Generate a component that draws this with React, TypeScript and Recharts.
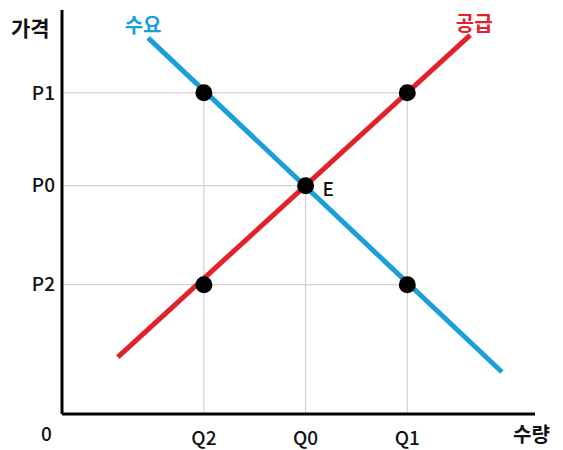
import React from 'react';
import {
  ComposedChart,
  Line,
  Scatter,
  XAxis,
  YAxis,
  ReferenceLine,
  ReferenceDot,
} from 'recharts';

// quantity / price levels (chart units 0..100)
const Q2 = 30;
const Q0 = 51.5;
const Q1 = 73;
const P2 = 32;
const P0 = 56.5;
const P1 = 79.5;

const xTicks = [Q2, Q0, Q1];
const xTickLabels = ['Q2', 'Q0', 'Q1'];
const yTicks = [P2, P0, P1];
const yTickLabels = ['P2', 'P0', 'P1'];

const demand = [
  { x: 18.2, y: 93.1 },
  { x: 93, y: 10.4 },
];
const supply = [
  { x: 11.8, y: 14.1 },
  { x: 86.3, y: 93.8 },
];
const points = [
  { x: Q2, y: P1 },
  { x: Q1, y: P1 },
  { x: Q0, y: P0 },
  { x: Q2, y: P2 },
  { x: Q1, y: P2 },
];

const FONT = '"Noto Sans CJK KR", "Noto Sans", sans-serif';
const BLUE = '#1a9fdb';
const RED = '#e2222a';
const GRID = '#c9c9c9';

const labelAt = (xs: number[], names: string[]) => (v: number) => names[xs.indexOf(v)] ?? '';

const Dot = (p: any) => <circle cx={p.cx} cy={p.cy} r={8.5} fill="#000" />;

const App: React.FC = () => {
  const tickStyle = { fill: '#111', fontSize: 19, fontFamily: FONT, fontWeight: 500 };
  return (
    <div style={{ position: 'absolute', left: 0, top: 0, width: 563, height: 450, background: '#fff' }}>
      <ComposedChart width={563} height={450} margin={{ top: 10, right: 28, left: 0, bottom: 0 }}>
        <XAxis
          dataKey="x"
          type="number"
          domain={[0, 100]}
          ticks={xTicks}
          tickFormatter={labelAt(xTicks, xTickLabels)}
          tickLine={false}
          tickMargin={12}
          height={36}
          axisLine={{ stroke: '#000', strokeWidth: 3 }}
          tick={tickStyle}
          allowDataOverflow
        />
        <YAxis
          dataKey="y"
          type="number"
          domain={[0, 100]}
          ticks={yTicks}
          tickFormatter={labelAt(yTicks, yTickLabels)}
          tickLine={false}
          width={62}
          tickMargin={1}
          axisLine={{ stroke: '#000', strokeWidth: 3 }}
          tick={tickStyle}
          allowDataOverflow
        />
        <ReferenceLine segment={[{ x: 0, y: P1 }, { x: Q1, y: P1 }]} stroke={GRID} />
        <ReferenceLine segment={[{ x: 0, y: P0 }, { x: Q0, y: P0 }]} stroke={GRID} />
        <ReferenceLine segment={[{ x: 0, y: P2 }, { x: Q1, y: P2 }]} stroke={GRID} />
        <ReferenceLine segment={[{ x: Q2, y: 0 }, { x: Q2, y: P1 }]} stroke={GRID} />
        <ReferenceLine segment={[{ x: Q0, y: 0 }, { x: Q0, y: P0 }]} stroke={GRID} />
        <ReferenceLine segment={[{ x: Q1, y: 0 }, { x: Q1, y: P1 }]} stroke={GRID} />
        <Line
          data={demand}
          dataKey="y"
          type="linear"
          stroke={BLUE}
          strokeWidth={5}
          dot={false}
          isAnimationActive={false}
        />
        <Line
          data={supply}
          dataKey="y"
          type="linear"
          stroke={RED}
          strokeWidth={5}
          dot={false}
          isAnimationActive={false}
        />
        <Scatter data={points} dataKey="y" shape={Dot} isAnimationActive={false} />
        <ReferenceDot
          x={demand[0].x}
          y={demand[0].y}
          r={0}
          stroke="none"
          label={{ value: '수요', position: 'top', offset: 5, fill: BLUE, fontSize: 20, fontWeight: 700, fontFamily: FONT, dx: -5 }}
        />
        <ReferenceDot
          x={supply[1].x}
          y={supply[1].y}
          r={0}
          stroke="none"
          label={{ value: '공급', position: 'top', offset: 4, fill: RED, fontSize: 20, fontWeight: 700, fontFamily: FONT, dx: 4 }}
        />
        <ReferenceDot
          x={Q0}
          y={P0}
          r={0}
          stroke="none"
          label={{ value: 'E', position: 'right', offset: 17, fill: '#111', fontSize: 19, fontWeight: 500, fontFamily: FONT, dy: 4 }}
        />
      </ComposedChart>
      <div style={{ position: 'absolute', left: 11, top: 13, fontFamily: FONT, fontSize: 21, fontWeight: 700, color: '#111', lineHeight: '28px' }}>
        가격
      </div>
      <div style={{ position: 'absolute', left: 513, top: 420, fontFamily: FONT, fontSize: 20, fontWeight: 700, color: '#111', lineHeight: '28px' }}>
        수량
      </div>
      <div style={{ position: 'absolute', left: 41, top: 419, fontFamily: FONT, fontSize: 19, fontWeight: 500, color: '#111', lineHeight: '28px' }}>
        0
      </div>
    </div>
  );
};

export default App;
